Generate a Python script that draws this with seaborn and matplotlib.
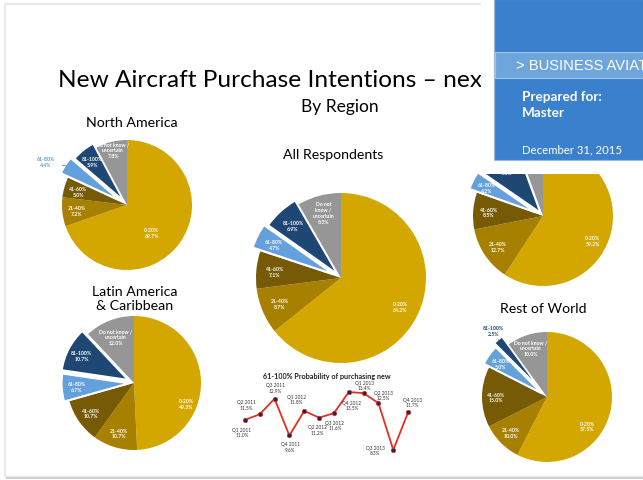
import numpy as np
import matplotlib
matplotlib.use("Agg")
import matplotlib.pyplot as plt
from matplotlib.patches import Rectangle
import seaborn as sns

# ---------------- data ----------------
categories = ["0-20%", "21-40%", "41-60%", "61-80%", "81-100%", "Do not know / uncertain"]
north_america = [69.7, 7.2, 5.0, 4.4, 5.9, 7.8]
latin_america = [49.3, 10.7, 10.7, 6.7, 10.7, 12.0]
all_respondents = [64.2, 8.7, 7.1, 4.7, 6.9, 8.3]
region_top_right = [59.2, 12.7, 8.5, 4.2, 9.8, 5.6]
rest_of_world = [57.5, 10.0, 15.0, 5.0, 2.5, 10.0]

quarters = ["Q1 2011", "Q2 2011", "Q3 2011", "Q4 2011", "Q1 2012", "Q2 2012",
            "Q3 2012", "Q4 2012", "Q1 2013", "Q2 2013", "Q3 2013", "Q4 2013"]
prob_61_100 = [11.0, 11.5, 12.9, 9.6, 11.8, 11.2, 11.6, 13.5, 13.4, 12.5, 8.3, 11.7]

# ---------------- style ----------------
sns.set_theme(style="white")
plt.rcParams["font.family"] = ["Lato", "DejaVu Sans"]

slice_colors = ["#D4A700", "#A88000", "#765A05", "#63A0DC", "#1E4873", "#969696"]

W, H = 643, 481
fig = plt.figure(figsize=(W / 100, H / 100), dpi=100)
fig.patch.set_facecolor("white")


def fx(px):
    return px / W


def fy(py):
    return 1 - py / H


# slide frame
fig.add_artist(Rectangle((fx(5), fy(478)), fx(700) - fx(5), fy(5) - fy(478),
                         transform=fig.transFigure, facecolor="none",
                         edgecolor="#EAEAEA", lw=1.6, zorder=-1))
fig.add_artist(Rectangle((fx(6), fy(480)), fx(700) - fx(6), fy(478) - fy(480),
                         transform=fig.transFigure, facecolor="#CFCFCF",
                         edgecolor="none", zorder=-1))

LBL = dict(color="white", fontsize=3.7, fontweight="bold", ha="center",
           va="center", linespacing=1.2)


def draw_pie(values, cx, cy, r, explode, main_polar, dk_text="Do not know /\nuncertain",
             outside=None, dk_dist=0.8):
    pad = 1.4
    ax = fig.add_axes([fx(cx - pad * r), fy(cy + pad * r), 2 * pad * r / W, 2 * pad * r / H])
    wedges, _ = ax.pie(values, colors=slice_colors, startangle=90, counterclock=False,
                       explode=explode, radius=1, wedgeprops=dict(linewidth=0))
    ax.set_xlim(-pad, pad)
    ax.set_ylim(-pad, pad)
    ax.set_aspect("equal")
    ax.axis("off")
    for i, (w, v) in enumerate(zip(wedges, values)):
        if explode[i] > 0:
            w.set_edgecolor("white")
            w.set_linewidth(1.4)
        name = categories[i] if i < 5 else dk_text
        txt = f"{name}\n{v:.1f}%"
        mid = np.deg2rad((w.theta1 + w.theta2) / 2)
        ox, oy = w.center
        if outside is not None and outside[0] == i:
            ang, dist, col = outside[1], outside[2], outside[3]
            tx, ty = dist * np.cos(np.deg2rad(ang)), dist * np.sin(np.deg2rad(ang))
            px, py = ox + 0.98 * np.cos(mid), oy + 0.98 * np.sin(mid)
            ax.annotate(txt, xy=(px, py), xytext=(tx, ty), color=col, fontsize=3.7,
                        fontweight="bold", ha="center", va="center", annotation_clip=False,
                        linespacing=1.2,
                        arrowprops=dict(arrowstyle="-", color="#555555", lw=0.4,
                                        shrinkA=3, shrinkB=0))
            continue
        if i == 0:
            ang, dist = main_polar
            tx, ty = dist * np.cos(np.deg2rad(ang)), dist * np.sin(np.deg2rad(ang))
        else:
            d = dk_dist if i == 5 else 0.78
            tx, ty = ox + d * np.cos(mid), oy + d * np.sin(mid)
        ax.text(tx, ty, txt, **LBL)
    return ax


# pies
draw_pie(north_america, 127, 206, 65, [0, 0, 0, 0.13, 0.08, 0], (-48.6, 0.57),
         outside=(3, 152, 1.42, "#5B9BD5"), dk_dist=0.88)
draw_pie(latin_america, 134, 384, 67, [0, 0, 0, 0.08, 0.1, 0], (-21, 0.84), dk_dist=0.74)
draw_pie(all_respondents, 341, 279, 85, [0, 0, 0, 0.1, 0.06, 0], (-25.6, 0.77),
         dk_text="Do not\nknow /\nuncertain")
draw_pie(region_top_right, 543, 217, 70, [0, 0, 0, 0.12, 0.06, 0], (-26.4, 0.79))
draw_pie(rest_of_world, 547, 398, 65, [0, 0, 0, 0.1, 0.16, 0], (-36, 0.76),
         outside=(4, 129, 1.31, "#1E4873"))

# titles
fig.text(fx(58), fy(81), "New Aircraft Purchase Intentions – next", fontsize=17.6,
         ha="left", va="center", color="black")
fig.text(fx(340), fy(107), "By Region", fontsize=12.5, ha="center", va="center", color="black")
fig.text(fx(132), fy(123), "North America", fontsize=10.2, ha="center", va="center", color="black")
fig.text(fx(333), fy(155), "All Respondents", fontsize=10.2, ha="center", va="center", color="black")
fig.text(fx(135), fy(298.5), "Latin America\n& Caribbean", fontsize=10.2, ha="center",
         va="center", color="black", linespacing=1.2)
fig.text(fx(543), fy(309), "Rest of World", fontsize=10.2, ha="center", va="center", color="black")

# line chart
lax = fig.add_axes([fx(230), fy(460), fx(423) - fx(230), fy(385) - fy(460)])
idx = np.arange(len(quarters))
sns.lineplot(x=idx, y=prob_61_100, ax=lax, color="#E2301F", linewidth=1.3, marker="o",
             markersize=3.2, markerfacecolor="#1F2A52", markeredgecolor="#E2301F",
             markeredgewidth=0.5)
lax.set_xlim(-1, 12)
lax.set_ylim(7.49, 14.22)
lax.axis("off")
label_offsets_px = [(-3, 12), (-13, -10), (1, -11), (1, 11), (-8, -12), (-2, 12),
                    (1, 12), (3, 13), (1, -8), (5, -8), (-18, 0), (4, -10)]
for i, (q, v) in enumerate(zip(quarters, prob_61_100)):
    dx, dy = label_offsets_px[i]
    lax.annotate(f"{q}\n{v:.1f}%", xy=(i, v), xytext=(dx * 0.72, -dy * 0.72),
                 textcoords="offset points", ha="center", va="center", fontsize=3.4,
                 color="#333333", annotation_clip=False, linespacing=1.15)
fig.text(fx(327), fy(376.5), "61-100% Probability of purchasing new", fontsize=5.2,
         fontweight="bold", ha="center", va="center", color="#222222")

# overlay card (top right)
fig.add_artist(Rectangle((fx(481), fy(175)), 1 - fx(481), fy(0) - fy(175),
                         transform=fig.transFigure, facecolor="white", edgecolor="none",
                         zorder=10))
fig.add_artist(Rectangle((fx(494), fy(161)), 1 - fx(494), fy(0) - fy(161),
                         transform=fig.transFigure, facecolor="#3B80CD",
                         edgecolor="#9DBBDD", lw=0.8, zorder=11))
fig.add_artist(Rectangle((fx(495), fy(79)), 1 - fx(495), fy(53) - fy(79),
                         transform=fig.transFigure, facecolor="#6EA6DC",
                         edgecolor="#9CC3E8", lw=0.8, zorder=12))
fig.text(fx(516), fy(66), "> BUSINESS AVIATION", fontsize=10.6, color="white",
         family=["Liberation Sans", "DejaVu Sans"], ha="left", va="center", zorder=13)
fig.text(fx(522), fy(97), "Prepared for:", fontsize=9.7, fontweight="bold", color="white",
         ha="left", va="center", zorder=13)
fig.text(fx(522), fy(113), "Master", fontsize=9.7, fontweight="bold", color="white",
         ha="left", va="center", zorder=13)
fig.text(fx(522), fy(150), "December 31, 2015", fontsize=8.2, color="white",
         ha="left", va="center", zorder=13)

fig.savefig("out.png", dpi=100)
